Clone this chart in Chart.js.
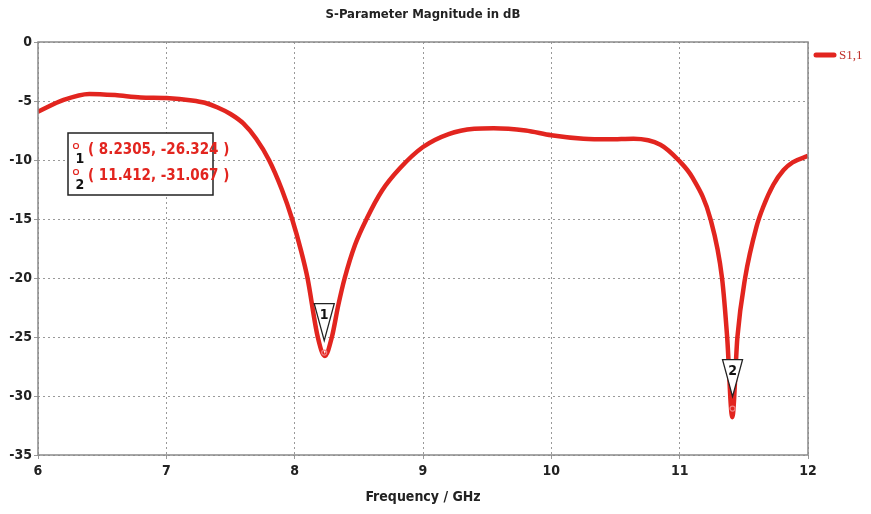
<!DOCTYPE html>
<html>
<head>
<meta charset="utf-8">
<script src="https://cdn.jsdelivr.net/npm/chart.js@4.4.0/dist/chart.umd.min.js"></script>
<style>
  html, body { margin: 0; padding: 0; background: #fff; }
  #wrap { width: 871px; height: 514px; position: relative; }
</style>
</head>
<body>
<div id="wrap"><canvas id="chart" width="871" height="514"></canvas></div>
<script>
// frequency in GHz and S1,1 in dB
const freq = [6.0, 6.2, 6.4, 6.6, 6.8, 7.0, 7.2, 7.3, 7.4, 7.5, 7.6, 7.7, 7.8, 7.9, 7.98, 8.05, 8.1, 8.18, 8.235,
  8.29, 8.34, 8.39, 8.47, 8.56, 8.68, 8.82, 9.0, 9.2, 9.4, 9.55, 9.8, 10.0, 10.25, 10.45, 10.64, 10.85, 10.99,
  11.1, 11.24, 11.33, 11.37, 11.41, 11.45, 11.51, 11.6, 11.65, 11.73, 11.81, 11.88, 12.0];
const s11 = [-5.9, -4.9, -4.4, -4.5, -4.7, -4.75, -4.95, -5.15, -5.55, -6.1, -6.9, -8.2, -10.0, -12.5, -15.0, -17.7, -20.0, -25.0, -26.6,
  -25.0, -22.3, -20.0, -17.2, -15.0, -12.6, -10.7, -8.9, -7.8, -7.35, -7.3, -7.5, -7.9, -8.2, -8.25, -8.2, -8.7, -10.0,
  -11.5, -15.0, -20.0, -25.0, -31.8, -25.0, -20.0, -15.6, -14.0, -12.1, -10.85, -10.2, -9.65];

const xTicks = [6, 7, 8, 9, 10, 11, 12];
const yTicks = [0, -5, -10, -15, -20, -25, -30, -35];

const markerIds = ['1', '2'];
const markerX = [8.2305, 11.412];
const markerY = [-26.324, -31.067];

const RED = '#e2251f';
const FONT = "'Liberation Sans Narrow', 'DejaVu Sans Condensed', sans-serif";

const overlay = {
  id: 'overlay',
  afterDatasetsDraw(chart) {
    const { ctx, chartArea: a, scales: { x, y } } = chart;
    ctx.save();

    // frame
    ctx.strokeStyle = '#8a8a8a';
    ctx.lineWidth = 1.5;
    ctx.strokeRect(a.left, a.top, a.right - a.left, a.bottom - a.top);

    // marker triangles on the curve
    markerIds.forEach((id, i) => {
      const px = x.getPixelForValue(markerX[i]);
      const py = y.getPixelForValue(markerY[i]);
      const tipY = py - 12;
      ctx.beginPath();
      ctx.moveTo(px - 10, tipY - 37);
      ctx.lineTo(px + 10, tipY - 37);
      ctx.lineTo(px, tipY);
      ctx.closePath();
      ctx.fillStyle = '#fff';
      ctx.fill();
      ctx.strokeStyle = '#222';
      ctx.lineWidth = 1.3;
      ctx.stroke();
      ctx.fillStyle = '#111';
      ctx.font = "bold 14px " + FONT;
      ctx.textAlign = 'center';
      ctx.textBaseline = 'middle';
      ctx.fillText(id, px, tipY - 25);
      ctx.beginPath();
      ctx.arc(px, py, 2.5, 0, Math.PI * 2);
      ctx.strokeStyle = '#f08080';
      ctx.lineWidth = 1.2;
      ctx.stroke();
    });

    // marker value box
    ctx.fillStyle = '#fff';
    ctx.fillRect(68, 133, 145, 62);
    ctx.strokeStyle = '#222';
    ctx.lineWidth = 1.5;
    ctx.strokeRect(68, 133, 145, 62);
    markerIds.forEach((id, i) => {
      const ly = 150 + i * 26;
      ctx.beginPath();
      ctx.arc(76, ly - 4, 2.5, 0, Math.PI * 2);
      ctx.strokeStyle = RED;
      ctx.lineWidth = 1.2;
      ctx.stroke();
      ctx.fillStyle = '#111';
      ctx.font = "bold 14px " + FONT;
      ctx.textAlign = 'center';
      ctx.textBaseline = 'middle';
      ctx.fillText(id, 80, ly + 9);
      ctx.fillStyle = RED;
      ctx.font = "bold 15px " + FONT;
      ctx.textAlign = 'left';
      ctx.fillText('( ' + markerX[i] + ', ' + markerY[i].toFixed(3) + ' )', 88, ly);
    });

    // legend
    ctx.strokeStyle = RED;
    ctx.lineWidth = 5;
    ctx.lineCap = 'round';
    ctx.beginPath();
    ctx.moveTo(816, 55);
    ctx.lineTo(834, 55);
    ctx.stroke();
    ctx.fillStyle = '#c0302a';
    ctx.font = "13px 'Liberation Serif', serif";
    ctx.textAlign = 'left';
    ctx.textBaseline = 'middle';
    ctx.fillText('S1,1', 839, 56);

    // titles
    ctx.fillStyle = '#222';
    ctx.font = "bold 13px " + FONT;
    ctx.textAlign = 'center';
    ctx.fillText('S-Parameter Magnitude in dB', 423, 15);
    ctx.font = "bold 14px " + FONT;
    ctx.fillText('Frequency / GHz', (a.left + a.right) / 2, 497);
    ctx.restore();
  }
};

new Chart(document.getElementById('chart'), {
  type: 'line',
  data: {
    datasets: [{
      label: 'S1,1',
      data: freq.map((f, i) => ({ x: f, y: s11[i] })),
      borderColor: RED,
      borderWidth: 4.5,
      pointRadius: 0,
      fill: false,
      cubicInterpolationMode: 'monotone',
    }],
  },
  options: {
    responsive: false,
    animation: false,
    devicePixelRatio: 1,
    layout: { padding: { top: 42, right: 63, left: 0, bottom: 0 } },
    plugins: { legend: { display: false }, tooltip: { enabled: false } },
    scales: {
      x: {
        type: 'linear',
        min: 6,
        max: 12,
        afterBuildTicks: (s) => { s.ticks = xTicks.map((v) => ({ value: v })); },
        afterFit: (s) => { s.height = 59; },
        grid: { color: '#999', lineWidth: 1, tickLength: 4 },
        border: { display: false, dash: [2, 3] },
        ticks: { color: '#222', padding: 4, maxRotation: 0, font: { family: FONT, size: 14, weight: 'bold' } },
      },
      y: {
        min: -35,
        max: 0,
        afterBuildTicks: (s) => { s.ticks = yTicks.map((v) => ({ value: v })); },
        afterFit: (s) => { s.width = 38; },
        grid: { color: '#999', lineWidth: 1, tickLength: 4 },
        border: { display: false, dash: [2, 3] },
        ticks: { color: '#222', padding: 2, font: { family: FONT, size: 14, weight: 'bold' } },
      },
    },
  },
  plugins: [overlay],
});
</script>
</body>
</html>
